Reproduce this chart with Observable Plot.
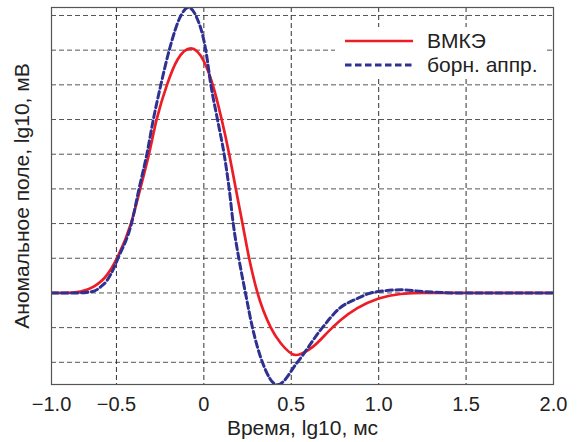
<!DOCTYPE html>
<html><head><meta charset="utf-8">
<script src="https://cdn.jsdelivr.net/npm/d3@7"></script>
<script src="https://cdn.jsdelivr.net/npm/@observablehq/plot@0.6"></script>
<style>body{margin:0;background:#fff}</style>
</head><body><div id="chart"></div>
<script>
const xTicks = [-1, -0.5, 0, 0.5, 1, 1.5, 2];
const xTickLabels = ["−1.0", "−0.5", "0", "0.5", "1.0", "1.5", "2.0"];
const xGrid = [-0.5, 0, 0.5, 1, 1.5];
const yGrid = [-2, -1, 0, 1, 2, 3, 4, 5, 6, 7, 8];
const seriesNames = ["ВМКЭ", "борн. аппр."];
const xLabel = "Время, lg10, мс";
const yLabel = "Аномальное поле, lg10, мВ";

const redX = [-1.0, -0.892, -0.777, -0.675, -0.572, -0.497, -0.417, -0.364, -0.314, -0.27, -0.211, -0.15, -0.074, 0.0, 0.051, 0.102, 0.145, 0.183, 0.221, 0.259, 0.307, 0.383, 0.44, 0.526, 0.611, 0.735, 0.783, 0.878, 1.0, 1.126, 1.257, 1.5, 2.0];
const redY = [0, 0, 0.04, 0.18, 0.52, 1, 2, 3, 4, 5, 6, 6.73, 7.05, 6.68, 6, 5, 4, 3, 2, 1, 0, -1, -1.45, -1.79, -1.6, -1.0, -0.78, -0.44, -0.16, -0.03, 0, 0, 0];

const blueX = [-1.0, -0.8, -0.675, -0.623, -0.572, -0.521, -0.491, -0.414, -0.371, -0.326, -0.289, -0.246, -0.198, -0.131, -0.089, -0.046, 0.011, 0.04, 0.078, 0.116, 0.145, 0.168, 0.2, 0.238, 0.278, 0.335, 0.421, 0.535, 0.678, 0.777, 0.878, 0.954, 1.0, 1.126, 1.257, 1.45, 2.0];
const blueY = [0, 0, 0.05, 0.17, 0.36, 0.71, 1, 2, 3, 4, 5, 6, 7, 8, 8.23, 8, 7, 6, 5, 4, 3, 2, 1, 0, -1, -2, -2.65, -2, -1, -0.44, -0.16, 0, 0.04, 0.09, 0.04, 0, 0];

const red = redX.map((x, i) => ({x, y: redY[i]}));
const blue = blueX.map((x, i) => ({x, y: blueY[i]}));

// the original axis compresses the first interval (−1.0 … −0.5)
const k = 65 / 87.5;
const xTransform = x => x < -0.5 ? -0.5 + (x + 0.5) * k : x;

const plot = Plot.plot({
  width: 579,
  height: 442,
  marginLeft: 51,
  marginRight: 26,
  marginTop: 7,
  marginBottom: 58,
  style: {fontFamily: "'Liberation Sans', Arial, sans-serif", fontSize: "20px", background: "white", color: "#222"},
  x: {transform: xTransform, domain: [xTransform(-1), 2]},
  y: {domain: [-2.64, 8.23], axis: null},
  marks: [
    Plot.ruleY(yGrid, {stroke: "#555", strokeDasharray: "5,3", strokeWidth: 1}),
    Plot.ruleX(xGrid, {stroke: "#333", strokeDasharray: "5,3", strokeWidth: 1}),
    Plot.line(red, {x: "x", y: "y", stroke: "#ee1c25", strokeWidth: 2.7, curve: "monotone-x", clip: true}),
    Plot.line(blue, {x: "x", y: "y", stroke: "#2e3192", strokeWidth: 3, strokeDasharray: "6.5,3.5", curve: "monotone-x", clip: true}),
    Plot.frame({stroke: "#555", strokeWidth: 1.2}),
    Plot.axisX(xTicks, {tickSize: 0, tickPadding: 12, fontSize: 20, label: null, tickFormat: d => xTickLabels[xTicks.indexOf(d)]}),
    Plot.text([xLabel], {frameAnchor: "bottom", dy: 50, fontSize: 21, fill: "#222"}),
    Plot.text([yLabel], {frameAnchor: "left", textAnchor: "middle", rotate: -90, dx: -29, fontSize: 21, fill: "#222"})
  ]
});

const svg = d3.select(plot);
const lg = svg.append("g");
lg.append("rect").attr("x", 335).attr("y", 27).attr("width", 209).attr("height", 50).attr("fill", "white");
const legendStyles = [{stroke: "#ee1c25", width: 2.7, dash: null}, {stroke: "#2e3192", width: 3, dash: "6.5,3.5"}];
seriesNames.forEach((name, i) => {
  const yy = 41 + i * 24;
  lg.append("line").attr("x1", 345).attr("x2", 413).attr("y1", yy).attr("y2", yy)
    .attr("stroke", legendStyles[i].stroke).attr("stroke-width", legendStyles[i].width)
    .attr("stroke-dasharray", legendStyles[i].dash);
  lg.append("text").attr("x", 427).attr("y", yy + 7).attr("text-anchor", "start")
    .attr("font-size", 21).attr("fill", "#222").text(name);
});

document.getElementById("chart").appendChild(plot);
</script>
</body></html>
